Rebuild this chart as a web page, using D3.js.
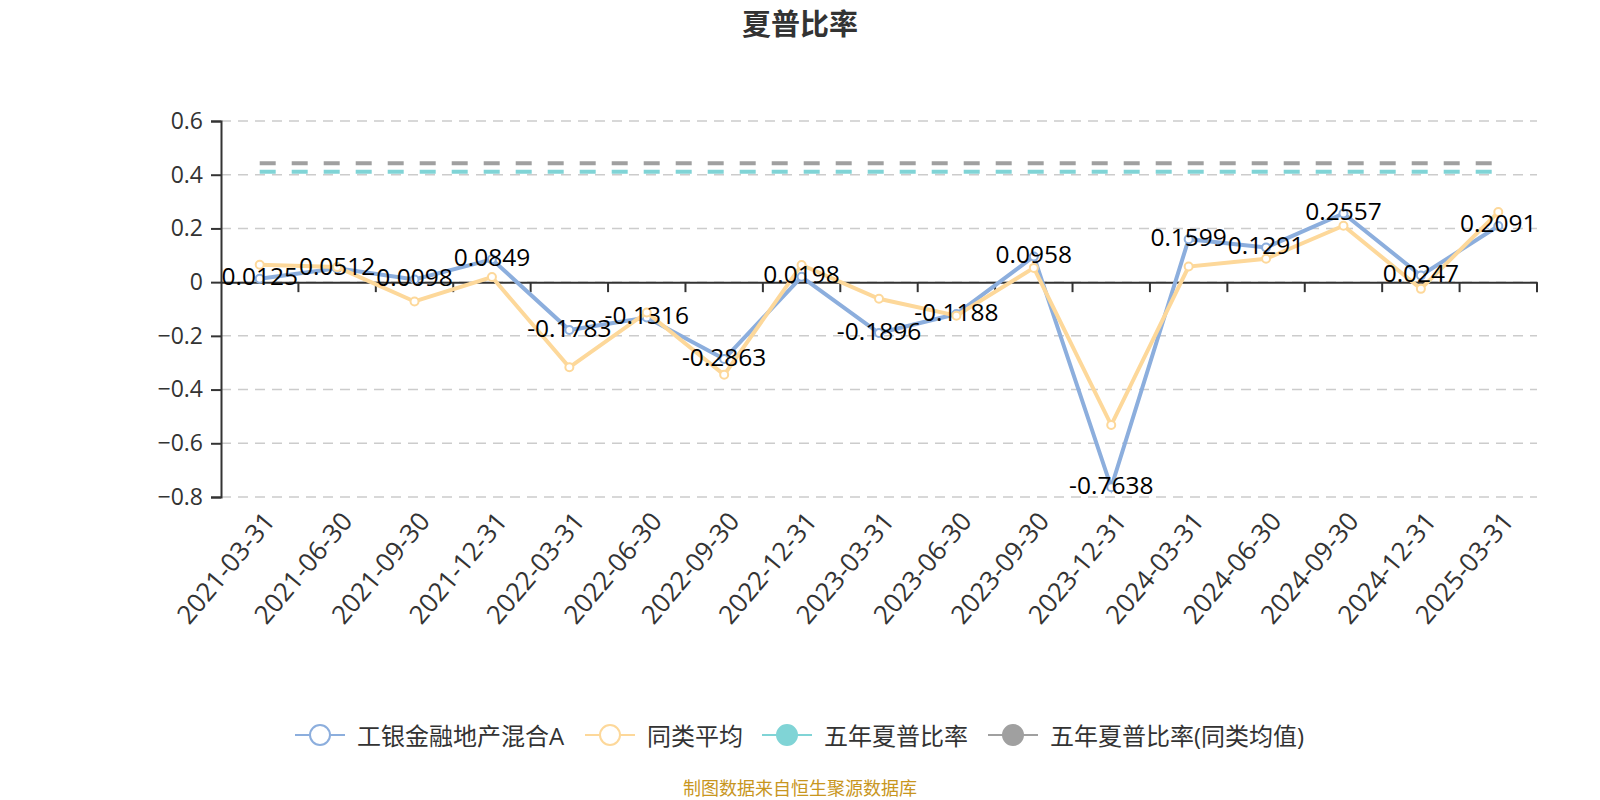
<!DOCTYPE html>
<html>
<head>
<meta charset="utf-8">
<script src="https://cdn.jsdelivr.net/npm/d3@7/dist/d3.min.js"></script>
<style>
  body { margin: 0; background: #fff; }
  text { font-family: "Open Sans", "Noto Sans CJK SC", sans-serif; }
</style>
</head>
<body>
<div id="chart"></div>
<script>
// data
var dates = ["2021-03-31", "2021-06-30", "2021-09-30", "2021-12-31", "2022-03-31", "2022-06-30",
  "2022-09-30", "2022-12-31", "2023-03-31", "2023-06-30", "2023-09-30", "2023-12-31",
  "2024-03-31", "2024-06-30", "2024-09-30", "2024-12-31", "2025-03-31"];
var fundValues = [0.0125, 0.0512, 0.0098, 0.0849, -0.1783, -0.1316, -0.2863, 0.0198, -0.1896,
  -0.1188, 0.0958, -0.7638, 0.1599, 0.1291, 0.2557, 0.0247, 0.2091];
var avgValues = [0.065, 0.056, -0.072, 0.019, -0.317, -0.113, -0.345, 0.064, -0.062,
  -0.125, 0.053, -0.532, 0.058, 0.087, 0.21, -0.025, 0.261];
var fiveYear = 0.411;
var fiveYearAvg = 0.443;
var yTicks = [0.6, 0.4, 0.2, 0, -0.2, -0.4, -0.6, -0.8];
var legendNames = ["工银金融地产混合A", "同类平均", "五年夏普比率", "五年夏普比率(同类均值)"];
var colors = ["#8caedd", "#fdd89a", "#80d4d6", "#a0a0a0"];

var svgWidth = 1600;
var svgHeight = 800;
var margin = { top: 121, right: 63, bottom: 303, left: 221 };
var width = svgWidth - margin.left - margin.right;
var height = svgHeight - margin.top - margin.bottom;

var svg = d3.select("#chart").append("svg")
  .attr("width", svgWidth)
  .attr("height", svgHeight);

svg.append("text")
  .attr("x", svgWidth / 2)
  .attr("y", 23)
  .attr("text-anchor", "middle")
  .attr("dominant-baseline", "central")
  .style("font-size", "29px")
  .style("font-weight", "bold")
  .style("fill", "#333")
  .text("夏普比率");

var chartGroup = svg.append("g")
  .attr("transform", `translate(${margin.left}, ${margin.top})`);

var x = d3.scaleBand().domain(dates).range([0, width]);
var y = d3.scaleLinear().domain([-0.8, 0.6]).range([height, 0]);
var cx = d => x(d) + x.bandwidth() / 2;

// grid lines
chartGroup.selectAll(".grid")
  .data(yTicks)
  .enter()
  .append("line")
  .attr("x1", 0)
  .attr("x2", width)
  .attr("y1", d => y(d))
  .attr("y2", d => y(d))
  .attr("stroke", "#cccccc")
  .attr("stroke-width", 1.5)
  .attr("stroke-dasharray", "10,7");

// y axis
var leftAxis = d3.axisLeft(y).tickValues(yTicks).tickSize(10).tickPadding(8)
  .tickFormat(d => d === 0 ? "0" : d3.format(".1f")(d));
var yAxisG = chartGroup.append("g").call(leftAxis);
yAxisG.select(".domain").attr("stroke", "#333").attr("stroke-width", 2);
yAxisG.selectAll(".tick line").attr("stroke", "#333").attr("stroke-width", 2);
yAxisG.selectAll(".tick text")
  .style("font-size", "23px")
  .style("fill", "#333")
  .style("font-family", "'Open Sans', sans-serif");

// x axis on zero
var bottomAxis = d3.axisBottom(x).tickSize(0).tickFormat("");
var xAxisG = chartGroup.append("g")
  .attr("transform", `translate(0, ${y(0)})`)
  .call(bottomAxis);
xAxisG.select(".domain").attr("stroke", "#333").attr("stroke-width", 2);
xAxisG.selectAll(".bt")
  .data(d3.range(1, dates.length + 1))
  .enter()
  .append("line")
  .attr("x1", i => i * x.step())
  .attr("x2", i => i * x.step())
  .attr("y1", 0)
  .attr("y2", 10)
  .attr("stroke", "#333")
  .attr("stroke-width", 2);

// x labels at bottom
chartGroup.selectAll(".xl")
  .data(dates)
  .enter()
  .append("text")
  .attr("transform", d => `translate(${cx(d) + 9}, ${height + 18.5}) rotate(-50)`)
  .attr("text-anchor", "end")
  .attr("dominant-baseline", "central")
  .style("font-size", "26px")
  .style("fill", "#333")
  .text(d => d);

// five year dashed lines
[[fiveYear, colors[2]], [fiveYearAvg, colors[3]]].forEach(function(p) {
  chartGroup.append("line")
    .attr("x1", cx(dates[0]))
    .attr("x2", cx(dates[dates.length - 1]))
    .attr("y1", y(p[0]))
    .attr("y2", y(p[0]))
    .attr("stroke", p[1])
    .attr("stroke-width", 4)
    .attr("stroke-dasharray", "16,16");
});

var line = d3.line()
  .x((d, i) => cx(dates[i]))
  .y(d => y(d));

[[fundValues, colors[0]], [avgValues, colors[1]]].forEach(function(s) {
  chartGroup.append("path")
    .datum(s[0])
    .attr("d", line)
    .attr("fill", "none")
    .attr("stroke", s[1])
    .attr("stroke-width", 4);
  chartGroup.selectAll(null)
    .data(s[0])
    .enter()
    .append("circle")
    .attr("cx", (d, i) => cx(dates[i]))
    .attr("cy", d => y(d))
    .attr("r", 4)
    .attr("fill", "#fff")
    .attr("stroke", s[1])
    .attr("stroke-width", 2);
});

// value labels on fund series
chartGroup.selectAll(".vl")
  .data(fundValues)
  .enter()
  .append("text")
  .attr("x", (d, i) => cx(dates[i]))
  .attr("y", d => y(d) - 3)
  .attr("text-anchor", "middle")
  .attr("dominant-baseline", "central")
  .style("font-size", "24.5px")
  .style("fill", "#000")
  .text(d => d);

// legend
var legendX = [320, 610, 787, 1013];
var legend = svg.append("g").attr("transform", "translate(0, 735)");
legendNames.forEach(function(name, i) {
  var g = legend.append("g").attr("transform", `translate(${legendX[i]}, 0)`);
  g.append("line")
    .attr("x1", -25).attr("x2", 25)
    .attr("stroke", colors[i]).attr("stroke-width", 2);
  g.append("circle")
    .attr("r", 10)
    .attr("fill", i < 2 ? "#fff" : colors[i])
    .attr("stroke", colors[i])
    .attr("stroke-width", 2);
  g.append("text")
    .attr("x", 37)
    .attr("dominant-baseline", "central")
    .style("font-size", "24px")
    .style("fill", "#333")
    .text(name);
});

svg.append("text")
  .attr("x", svgWidth / 2)
  .attr("y", 788)
  .attr("text-anchor", "middle")
  .attr("dominant-baseline", "central")
  .style("font-size", "18px")
  .style("fill", "#c8961e")
  .text("制图数据来自恒生聚源数据库");
</script>
</body>
</html>
